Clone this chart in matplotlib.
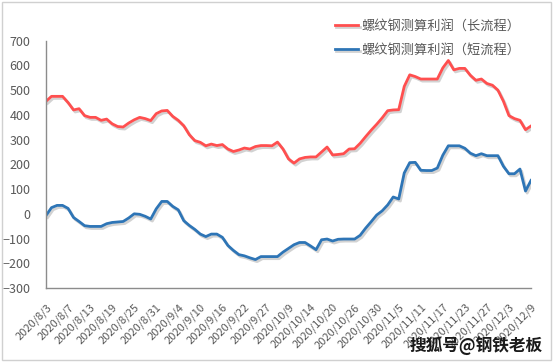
import matplotlib
matplotlib.use("Agg")
import matplotlib.pyplot as plt
import matplotlib.patheffects as pe
from matplotlib.patches import Rectangle

plt.rcParams['font.family'] = ['Noto Sans CJK SC', 'DejaVu Sans']

# ------------------------------------------------------------
# 数据（按交易日，每 4 个交易日一个日期标签）
# ------------------------------------------------------------
tick_labels = [
    "2020/8/3", "2020/8/7", "2020/8/13", "2020/8/19", "2020/8/25", "2020/8/31",
    "2020/9/4", "2020/9/10", "2020/9/16", "2020/9/22", "2020/9/27", "2020/10/9",
    "2020/10/14", "2020/10/20", "2020/10/26", "2020/10/30", "2020/11/5",
    "2020/11/11", "2020/11/17", "2020/11/23", "2020/11/27", "2020/12/3", "2020/12/9",
]

long_process = [
    455, 475, 475, 475, 450, 420, 425, 397, 390, 390,
    378, 383, 364, 353, 351, 367, 380, 390, 385, 377,
    405, 416, 418, 394, 378, 356, 320, 296, 289, 275,
    282, 276, 280, 262, 252, 258, 266, 262, 272, 276,
    276, 275, 290, 262, 222, 205, 222, 228, 230, 230,
    250, 270, 238, 240, 243, 262, 263, 285, 312, 338,
    362, 388, 417, 420, 421, 515, 562, 555, 545, 545,
    545, 545, 590, 620, 582, 588, 588, 560, 540, 545,
    527, 520, 500, 455, 397, 385, 378, 340, 355,
]

short_process = [
    -7, 25, 34, 34, 22, -15, -31, -48, -51, -51,
    -51, -40, -35, -33, -31, -17, 0, -2, -10, -21,
    20, 50, 50, 30, 16, -28, -47, -63, -82, -92,
    -82, -82, -95, -128, -148, -165, -170, -178, -185, -173,
    -173, -173, -173, -155, -140, -125, -116, -116, -130, -145,
    -105, -102, -110, -103, -102, -102, -102, -87, -58, -32,
    -5, 12, 36, 68, 60, 165, 207, 208, 176, 175,
    175, 185, 237, 275, 275, 275, 265, 245, 235, 243,
    235, 235, 235, 192, 162, 162, 181, 92, 135,
]

series_names = ["螺纹钢测算利润（长流程）", "螺纹钢测算利润（短流程）"]
watermark = "搜狐号@钢铁老板"

# ------------------------------------------------------------
# 作图
# ------------------------------------------------------------
W, H = 554, 363
fig = plt.figure(figsize=(W / 100, H / 100), dpi=100)
ax = fig.add_axes([46 / W, 1 - 288 / H, (531 - 46) / W, (288 - 40.7) / H])

shadow = [pe.SimpleLineShadow(offset=(1.2, -1.5), shadow_color='gray', alpha=0.35), pe.Normal()]
x = range(len(long_process))
ax.plot(x, long_process, color='#FF4F4F', lw=2.0, label=series_names[0],
        path_effects=shadow, solid_joinstyle='round')
ax.plot(x, short_process, color='#2E75B6', lw=2.0, label=series_names[1],
        path_effects=shadow, solid_joinstyle='round')

ax.set_xlim(0, len(long_process) - 1)
ax.set_ylim(-300, 700)
ax.set_yticks(range(-300, 701, 100))
ax.set_xticks(range(0, len(long_process), 4))
ax.set_xticklabels(tick_labels, rotation=45, ha='right', rotation_mode='anchor')

ax.tick_params(axis='both', length=0, colors='#595959', labelsize=9)
ax.tick_params(axis='y', pad=11)
ax.tick_params(axis='x', pad=10, labelsize=8)
for s in ['top', 'right']:
    ax.spines[s].set_visible(False)
for s in ['left', 'bottom']:
    ax.spines[s].set_color('#8c8c8c')
    ax.spines[s].set_linewidth(1.0)

fig.legend(loc='upper left', bbox_to_anchor=(328 / W, 1 - 13 / H), frameon=False,
           fontsize=9.5, labelcolor='#595959', handlelength=1.8, handletextpad=0.2,
           labelspacing=0.85, borderpad=0)

fig.text(476 / W, 1 - 346 / H, watermark, ha='center', va='center',
         fontsize=12, color='#1a1a1a', fontweight='bold')

fig.patches.append(Rectangle((2 / W, 3 / H), (551 - 2) / W, (361 - 3) / H,
                             transform=fig.transFigure, fill=False,
                             edgecolor='#d0d0d0', lw=1.0))

fig.savefig("out.png", dpi=100)
